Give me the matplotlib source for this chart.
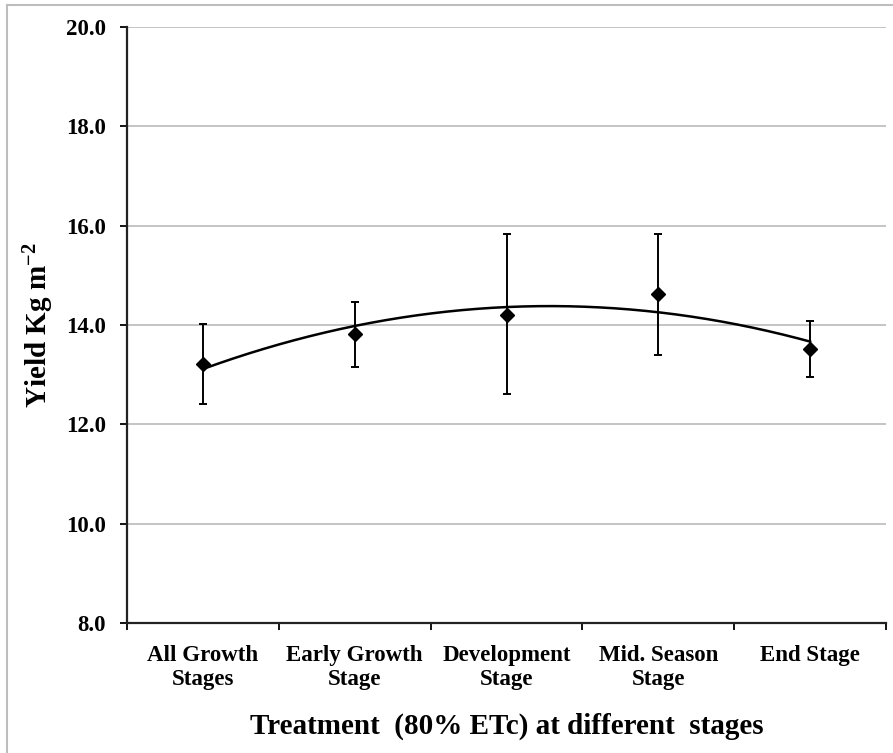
import matplotlib
matplotlib.use("Agg")
import matplotlib.pyplot as plt
import numpy as np

plt.rcParams['font.family'] = ['Liberation Serif', 'DejaVu Serif']
plt.rcParams['font.weight'] = 'bold'
plt.rcParams['mathtext.fontset'] = 'custom'
plt.rcParams['mathtext.rm'] = 'Liberation Serif:bold'
plt.rcParams['mathtext.it'] = 'Liberation Serif:bold'
plt.rcParams['mathtext.bf'] = 'Liberation Serif:bold'

# Produtividade media por estagio (80% ETc)
estagios = ["All Growth\nStages", "Early Growth\nStage", "Development\nStage",
            "Mid. Season\nStage", "End Stage"]
produtividade = np.array([13.22, 13.82, 14.21, 14.62, 13.51])
erro_sup = np.array([14.03, 14.47, 15.83, 15.83, 14.09])
erro_inf = np.array([12.42, 13.16, 12.62, 13.39, 12.95])

x = np.arange(1, len(estagios) + 1)

# Linha de tendencia polinomial (2º grau)
coeficiente = np.polyfit(x, produtividade, 2)
t = np.linspace(1, 5, 200)
curva = np.polyval(coeficiente, t)

fig = plt.figure(figsize=(8.93, 7.53), dpi=100)
ax = fig.add_axes([0.1422, 0.1726, 0.8500, 0.7915])

ax.grid(axis='y', color='#b4b4b4', linewidth=1.1)
ax.set_axisbelow(True)

ax.plot(t, curva, color='black', linewidth=1.8, zorder=3)
ax.errorbar(x, produtividade,
            yerr=[produtividade - erro_inf, erro_sup - produtividade],
            fmt='D', color='black', markersize=7, ecolor='black',
            elinewidth=1.4, capsize=3, capthick=1.4, zorder=4)

ax.set_xlim(0.5, 5.5)
ax.set_ylim(8, 20)
ax.set_yticks(np.arange(8, 20.1, 2))
ax.set_yticklabels([f"{v:.1f}" for v in np.arange(8, 20.1, 2)], fontsize=16.5)

ax.set_xticks(x)
ax.set_xticklabels(estagios, fontsize=16.5, linespacing=1.2)
ax.set_xticks(np.arange(0.5, 5.6, 1), minor=True)
ax.tick_params(axis='x', which='major', length=0, pad=16)
ax.tick_params(axis='x', which='minor', length=5, width=1.3)
ax.tick_params(axis='y', length=5, width=1.3, pad=10)

for lado in ['top', 'right']:
    ax.spines[lado].set_visible(False)
for lado in ['left', 'bottom']:
    ax.spines[lado].set_linewidth(1.6)
    ax.spines[lado].set_color('#222222')

ax.set_xlabel("Treatment  (80% ETc) at different  stages", fontsize=21,
              fontweight='bold', labelpad=16)
ax.set_ylabel("Yield Kg m$^{-2}$", fontsize=21, fontweight='bold', labelpad=7)

# Moldura externa
fig.add_artist(plt.Line2D([0.008, 0.008], [0.0, 0.994], color='#bdbdbd',
                          linewidth=1.5, transform=fig.transFigure))
fig.add_artist(plt.Line2D([0.008, 1.0], [0.994, 0.994], color='#bdbdbd',
                          linewidth=1.5, transform=fig.transFigure))

fig.savefig("out.png", dpi=100)
